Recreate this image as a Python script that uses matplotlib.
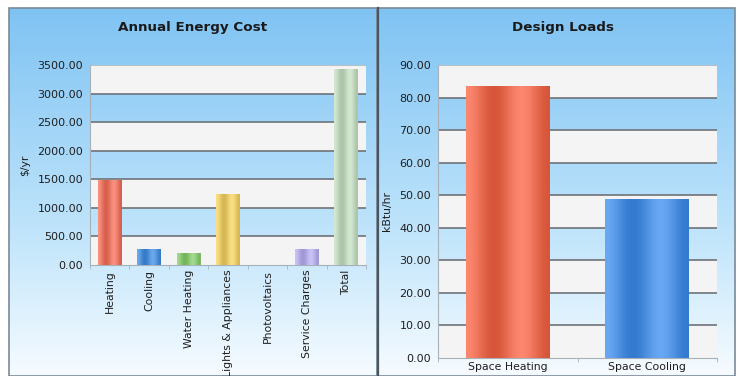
import matplotlib
matplotlib.use("Agg")
import matplotlib.pyplot as plt
import matplotlib.colors as mcolors
from matplotlib.patches import Rectangle
import numpy as np

# data
cost_labels = ["Heating", "Cooling", "Water Heating", "Lights & Appliances",
               "Photovoltaics", "Service Charges", "Total"]
cost_values = [1480, 280, 205, 1240, 8, 272, 3425]
cost_colors = ["#f9705a", "#3f8fe6", "#86d06a", "#f8d560", "#f28a7a", "#b9b1f6", "#c8e2c4"]
cost_ticks = np.arange(0, 3501, 500)

load_labels = ["Space Heating", "Space Cooling"]
load_values = [83.5, 48.7]
load_colors = ["#fa6444", "#3d8ef0"]
load_ticks = np.arange(0, 91, 10)

W, H = 738, 376
fig = plt.figure(figsize=(W / 100, H / 100), dpi=100)
fig.patch.set_facecolor("white")

# background panels in pixel coordinates
bg = fig.add_axes([0, 0, 1, 1])
bg.set_xlim(0, W)
bg.set_ylim(H, 0)
bg.axis("off")
top_c = np.array(mcolors.to_rgb("#7fc3f3"))
mid_c = np.array(mcolors.to_rgb("#bfe4fb"))
bot_c = np.array(mcolors.to_rgb("#f6fbff"))
t = np.linspace(0, 1, 256)[:, None]
grad = np.where(t < 0.6, top_c + (mid_c - top_c) * (t / 0.6),
                mid_c + (bot_c - mid_c) * ((t - 0.6) / 0.4))
grad = grad[:, None, :].repeat(2, axis=1)
for x0, x1 in [(9, 377), (378, 735)]:
    bg.imshow(grad, extent=(x0, x1, H, 8), aspect="auto", zorder=0)
    bg.add_patch(Rectangle((x0, 8), x1 - x0, H - 8, fill=False,
                           edgecolor="#7a8a98", lw=1.2, zorder=1))
bg.plot([377.5, 377.5], [8, H], color="#4a5560", lw=1.6, zorder=2)

fig.text(193 / W, 1 - 28 / H, "Annual Energy Cost", ha="center", va="center",
         fontsize=9.7, fontweight="bold", color="#1a1a1a")
fig.text(563 / W, 1 - 28 / H, "Design Loads", ha="center", va="center",
         fontsize=9.7, fontweight="bold", color="#1a1a1a")


def shade_bar(ax, bar, color):
    base = np.array(mcolors.to_rgb(color))
    light = base + (1 - base) * 0.25
    dark = base * 0.85
    s = np.linspace(0, 1, 64)
    w = 0.5 + 0.5 * np.cos(s * np.pi * 3.0)
    row = light[None, :] * w[:, None] + dark[None, :] * (1 - w[:, None])
    img = row[None, :, :]
    x, y = bar.get_x(), bar.get_y()
    im = ax.imshow(img, extent=(x, x + bar.get_width(), y, y + bar.get_height()),
                   aspect="auto", zorder=3, alpha=0.9)
    im.set_clip_path(bar)


def style_axes(ax, ticks, fmt):
    ax.set_facecolor("none")
    top = ticks[-1]
    ax.set_ylim(0, top)
    ax.set_yticks(ticks)
    ax.set_yticklabels([fmt.format(v) for v in ticks], fontsize=8, color="#1e1e1e")
    step = ticks[1] - ticks[0]
    for i, lo in enumerate(ticks[:-1]):
        if (len(ticks) - 2 - i) % 2 == 0:
            ax.axhspan(lo, lo + step, color="#f4f4f4", zorder=0.5, lw=0)
    for v in ticks[1:-1]:
        ax.axhline(v, color="#6e7378", lw=1.2, zorder=1)
    ax.axhline(top, color="#b8c0c6", lw=0.8, zorder=1)
    for s in ["top", "right"]:
        ax.spines[s].set_visible(False)
    ax.spines["left"].set_color("#a8b0b8")
    ax.spines["bottom"].set_color("#a8b0b8")
    ax.tick_params(axis="y", length=0, pad=5)
    ax.tick_params(axis="x", length=0)


# left: annual energy cost
ax1 = fig.add_axes([90 / W, (H - 265) / H, 276 / W, 200 / H])
x1 = np.arange(len(cost_labels))
bars1 = ax1.bar(x1, cost_values, width=0.6, color=cost_colors, zorder=2, lw=0)
for b, c in zip(bars1, cost_colors):
    shade_bar(ax1, b, c)
ax1.set_xlim(-0.5, len(cost_labels) - 0.5)
style_axes(ax1, cost_ticks, "{:.2f}")
ax1.set_xticks(x1)
ax1.set_xticklabels(cost_labels, rotation=90, fontsize=7.8, color="#1e1e1e")
ax1.set_xticks(np.arange(-0.5, len(cost_labels)), minor=True)
ax1.tick_params(axis="x", which="minor", length=3, color="#a8b0b8")
ax1.set_ylabel("$/yr", fontsize=7.8, color="#1e1e1e", labelpad=5)

# right: design loads
ax2 = fig.add_axes([438 / W, (H - 357.7) / H, 279 / W, 292.7 / H])
x2 = np.arange(len(load_labels))
bars2 = ax2.bar(x2, load_values, width=0.6, color=load_colors, zorder=2, lw=0)
for b, c in zip(bars2, load_colors):
    shade_bar(ax2, b, c)
ax2.set_xlim(-0.5, len(load_labels) - 0.5)
style_axes(ax2, load_ticks, "{:.2f}")
ax2.set_xticks(x2)
ax2.set_xticklabels(load_labels, fontsize=7.8, color="#1e1e1e")
ax2.tick_params(axis="x", pad=3)
ax2.set_xticks(np.arange(-0.5, len(load_labels)), minor=True)
ax2.tick_params(axis="x", which="minor", length=3, color="#a8b0b8")
ax2.set_ylabel("kBtu/hr", fontsize=7.8, color="#1e1e1e", labelpad=5)

fig.savefig("out.png", dpi=100)
